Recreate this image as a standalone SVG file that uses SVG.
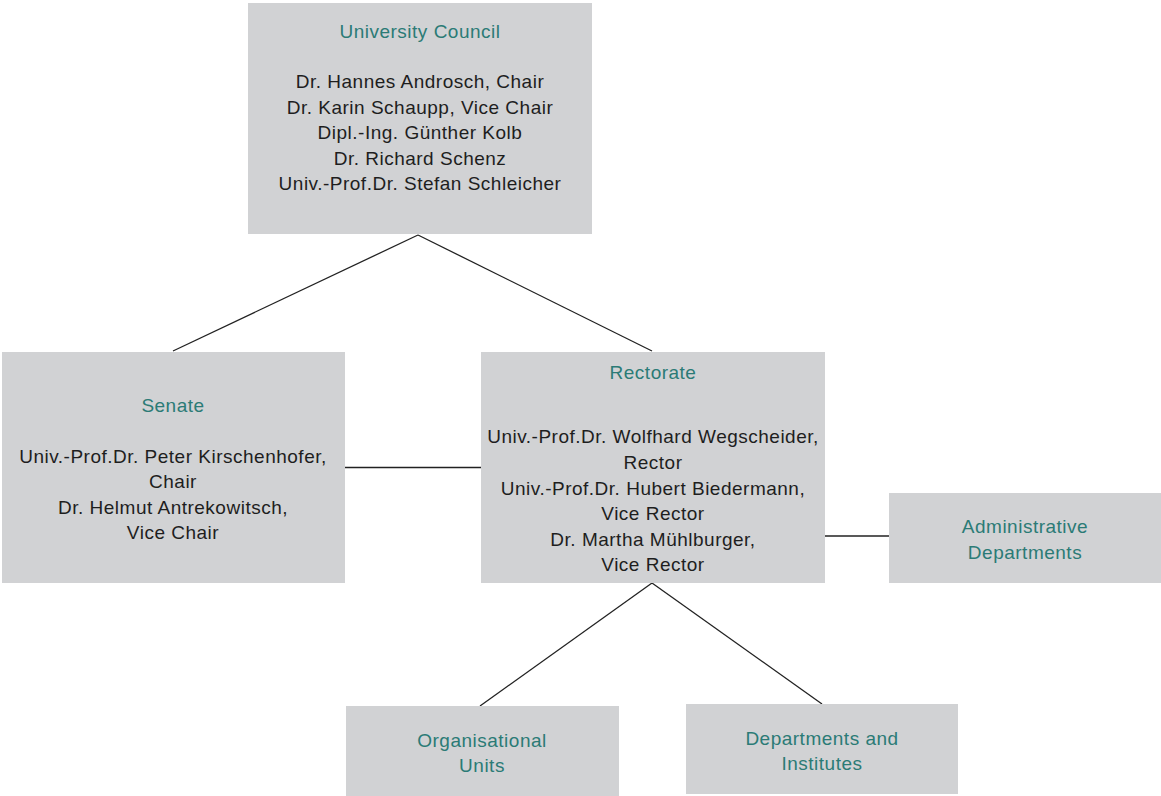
<svg xmlns="http://www.w3.org/2000/svg" width="1161" height="796" viewBox="0 0 1161 796">
<style>
.box{fill:#d1d2d4}
.t{font-family:"Liberation Sans",Arial,sans-serif;font-size:19px;letter-spacing:0.5px;text-anchor:middle}
.h{fill:#2b7b76}
.b{fill:#1e1e1e}
.c{stroke:#222;stroke-width:1.3;fill:none}
</style>
<rect width="1161" height="796" fill="#fff"/>
<g id="connectors">
<line class="c" x1="418" y1="235" x2="173" y2="351"/>
<line class="c" x1="418" y1="235" x2="652" y2="351"/>
<line class="c" x1="345" y1="467.5" x2="481" y2="467.5"/>
<line class="c" x1="822" y1="536" x2="889" y2="536"/>
<line class="c" x1="652" y1="583" x2="480" y2="706"/>
<line class="c" x1="652" y1="583" x2="822" y2="704"/>
</g>
<g id="council">
<rect class="box" x="248" y="3" width="344" height="231"/>
<text class="t h" x="420" y="38">University Council</text>
<text class="t b" x="420" y="88">Dr. Hannes Androsch, Chair</text>
<text class="t b" x="420" y="114">Dr. Karin Schaupp, Vice Chair</text>
<text class="t b" x="420" y="139">Dipl.-Ing. Günther Kolb</text>
<text class="t b" x="420" y="165">Dr. Richard Schenz</text>
<text class="t b" x="420" y="190">Univ.-Prof.Dr. Stefan Schleicher</text>
</g>
<g id="senate">
<rect class="box" x="2" y="352" width="343" height="231"/>
<text class="t h" x="173" y="412">Senate</text>
<text class="t b" x="173" y="463">Univ.-Prof.Dr. Peter Kirschenhofer,</text>
<text class="t b" x="173" y="488">Chair</text>
<text class="t b" x="173" y="514">Dr. Helmut Antrekowitsch,</text>
<text class="t b" x="173" y="539">Vice Chair</text>
</g>
<g id="rectorate">
<rect class="box" x="481" y="352" width="344" height="231"/>
<text class="t h" x="653" y="379">Rectorate</text>
<text class="t b" x="653" y="443">Univ.-Prof.Dr. Wolfhard Wegscheider,</text>
<text class="t b" x="653" y="469">Rector</text>
<text class="t b" x="653" y="495">Univ.-Prof.Dr. Hubert Biedermann,</text>
<text class="t b" x="653" y="520">Vice Rector</text>
<text class="t b" x="653" y="546">Dr. Martha Mühlburger,</text>
<text class="t b" x="653" y="571">Vice Rector</text>
</g>
<g id="admin">
<rect class="box" x="889" y="493" width="272" height="90"/>
<text class="t h" x="1025" y="533">Administrative</text>
<text class="t h" x="1025" y="559">Departments</text>
</g>
<g id="orgunits">
<rect class="box" x="346" y="706" width="273" height="90"/>
<text class="t h" x="482" y="747">Organisational</text>
<text class="t h" x="482" y="772">Units</text>
</g>
<g id="departments">
<rect class="box" x="686" y="704" width="272" height="90"/>
<text class="t h" x="822" y="745">Departments and</text>
<text class="t h" x="822" y="770">Institutes</text>
</g>
</svg>
